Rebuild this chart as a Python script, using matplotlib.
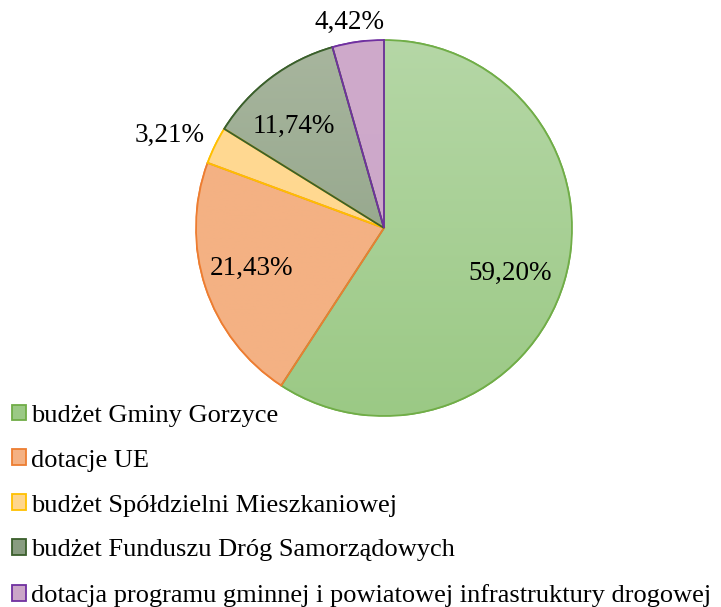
import numpy as np
import matplotlib
matplotlib.use('Agg')
import matplotlib.pyplot as plt
from matplotlib.colors import LinearSegmentedColormap

labels = ['budżet Gminy Gorzyce', 'dotacje UE', 'budżet Spółdzielni Mieszkaniowej',
          'budżet Funduszu Dróg Samorządowych',
          'dotacja programu gminnej i powiatowej infrastruktury drogowej']
values = [59.20, 21.43, 3.21, 11.74, 4.42]
value_text = ['59,20%', '21,43%', '3,21%', '11,74%', '4,42%']

edge_colors = ['#70ad47', '#ed7d31', '#ffc000', '#3a5f2b', '#7030a0']
top_colors = ['#b5d7a6', '#f4b183', '#ffda94', '#a8b69e', '#cfaacb']
bottom_colors = ['#9bc985', '#f4b183', '#ffd68c', '#889c80', '#cba6c8']

# label baseline positions, in units of the pie radius
label_pos = [(0.670, -0.277), (-0.707, -0.250), (-1.138, 0.457),
             (-0.479, 0.505), (-0.181, 1.059)]

plt.rcParams['font.family'] = ['Liberation Serif', 'DejaVu Serif']
FS = 19.5

W, H = 721, 607
fig = plt.figure(figsize=(W / 100, H / 100), dpi=100)
cx, cy, r = 384, 228, 188
ax = fig.add_axes([(cx - r) / W, (H - cy - r) / H, 2 * r / W, 2 * r / H])

wedges, _ = ax.pie(values, startangle=90, counterclock=False, radius=1,
                   colors=bottom_colors, labels=None,
                   wedgeprops=dict(linewidth=1.3))
for w, ec in zip(wedges, edge_colors):
    w.set_edgecolor(ec)

# vertical gradient fill inside each wedge
for i, w in enumerate(wedges):
    cmap = LinearSegmentedColormap.from_list('g%d' % i, [bottom_colors[i], top_colors[i]])
    grad = np.linspace(0, 1, 256).reshape(-1, 1)
    im = ax.imshow(grad, extent=[-1, 1, -1, 1], origin='lower', cmap=cmap,
                   aspect='auto', zorder=w.get_zorder() + 0.1)
    im.set_clip_path(w)
    edge = matplotlib.patches.Wedge((0, 0), 1, w.theta1, w.theta2, facecolor='none',
                                    edgecolor=edge_colors[i], linewidth=1.3,
                                    zorder=w.get_zorder() + 0.2)
    ax.add_patch(edge)

# percentage labels
for (x, y), t in zip(label_pos, value_text):
    ax.text(x, y, t, ha='center', va='baseline', fontsize=FS, color='black', zorder=10)

ax.set_xlim(-1, 1)
ax.set_ylim(-1, 1)
ax.set_aspect('equal')
ax.axis('off')

leg = fig.legend(wedges, labels, loc='upper left', bbox_to_anchor=(12 / W, 1 - 404.5 / H),
                 frameon=False, fontsize=19, handlelength=0.53, handleheight=0.53,
                 handletextpad=0.2, labelspacing=0.865, borderaxespad=0, borderpad=0)

fig.savefig('out.png', dpi=100)
